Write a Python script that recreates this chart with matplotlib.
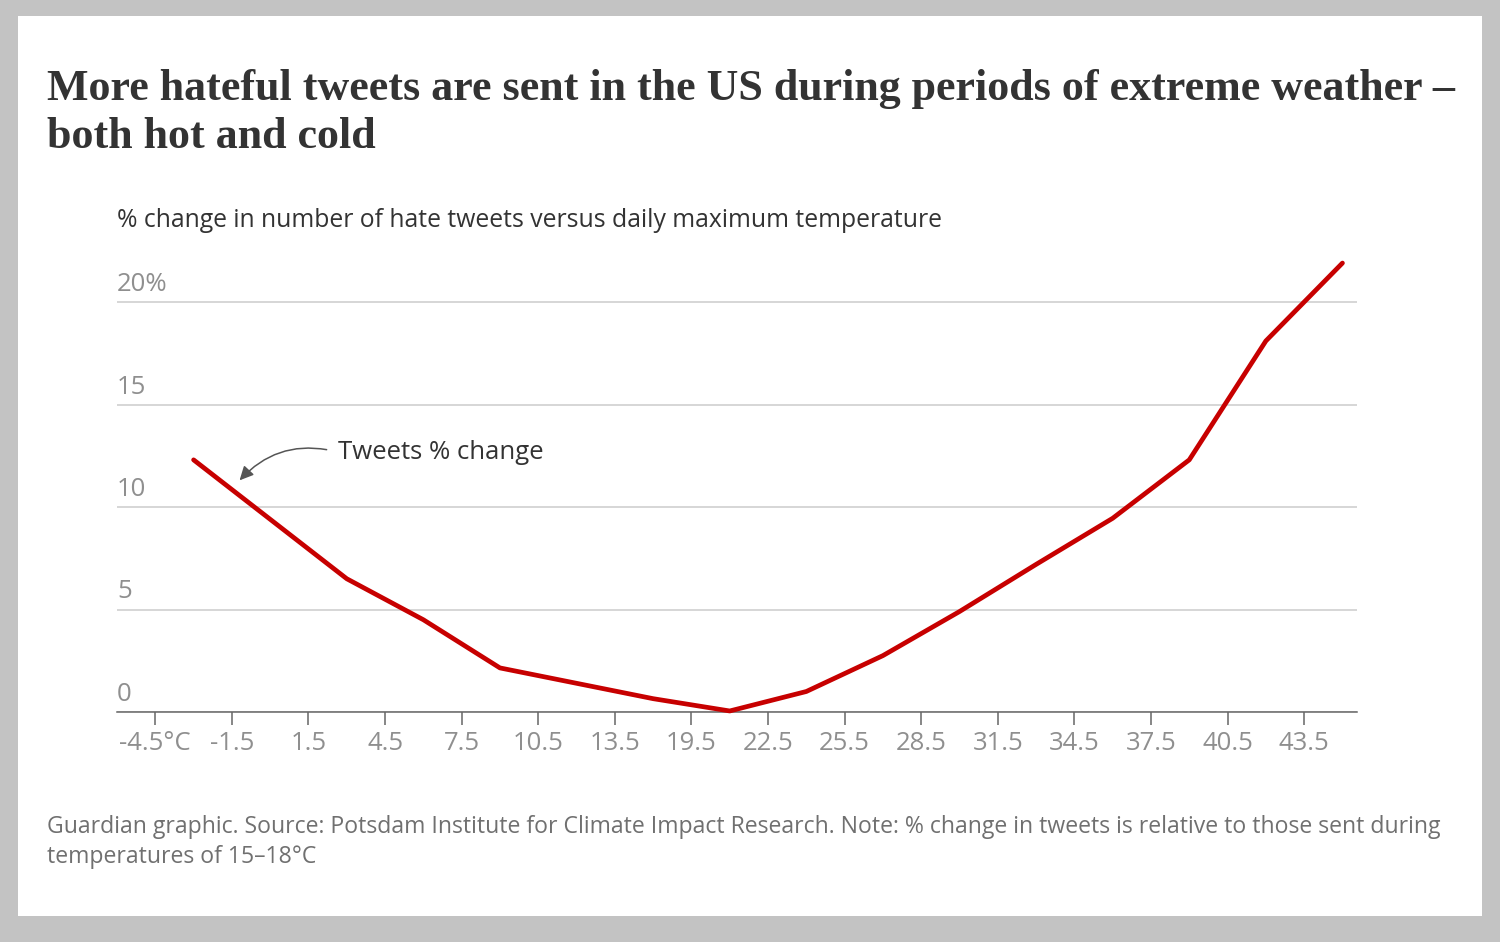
import matplotlib.pyplot as plt
import matplotlib.patches as patches
import matplotlib.transforms as mtransforms
import numpy as np

# temperature bands (bin edges shown as tick labels) and % change in hate tweets
tick_labels = ['-4.5°C', '-1.5', '1.5', '4.5', '7.5', '10.5', '13.5', '19.5',
               '22.5', '25.5', '28.5', '31.5', '34.5', '37.5', '40.5', '43.5']
tweets_change = [12.3, 9.4, 6.5, 4.5, 2.15, 1.4, 0.65, 0.05,
                 1.0, 2.75, 4.9, 7.2, 9.45, 12.3, 18.1, 21.9]
y_ticks = [0, 5, 10, 15, 20]
y_labels = ['0', '5', '10', '15', '20%']

title_lines = ['More hateful tweets are sent in the US during periods of extreme weather –',
               'both hot and cold']
subtitle = '% change in number of hate tweets versus daily maximum temperature'
footer_lines = ['Guardian graphic. Source: Potsdam Institute for Climate Impact Research. '
                'Note: % change in tweets is relative to those sent during',
                'temperatures of 15–18°C']

W, H = 1500, 942
SANS = ['Open Sans', 'DejaVu Sans']
SERIF = ['Liberation Serif', 'DejaVu Serif']

fig = plt.figure(figsize=(W / 100, H / 100), dpi=100, facecolor='#c3c3c3')
fig.add_artist(patches.Rectangle((18 / W, 1 - 916 / H), (1482 - 18) / W, (916 - 16) / H,
                                 transform=fig.transFigure, facecolor='white',
                                 edgecolor='none', zorder=0))


def fx(px):
    return px / W


def fy(py):
    return 1 - py / H


def fit_width(t, target_px):
    r = fig.canvas.get_renderer()
    w = t.get_window_extent(r).width
    t.set_fontsize(t.get_fontsize() * target_px / w)


# axes
ax = fig.add_axes([fx(117), fy(712), (1357 - 117) / W, (712 - 250.75) / H])
ax.set_facecolor('none')
x = np.arange(len(tweets_change)) + 0.5
ax.plot(x, tweets_change, color='#c70000', lw=3.4, solid_capstyle='round',
        solid_joinstyle='round', clip_on=False, zorder=3)
ax.set_xlim(-0.5, 15.69)
ax.set_ylim(0, 22.5)

ax.set_xticks(range(len(tick_labels)))
ax.set_xticklabels(tick_labels, family=SANS)
ax.tick_params(axis='x', length=9, width=1.1, color='#666666', labelsize=18.5,
               labelcolor='#8f8f8f', pad=5)
ax.set_yticks(y_ticks)
ax.tick_params(axis='y', length=0, labelleft=False)
ax.grid(axis='y', color='#cccccc', lw=1.1)
ax.set_axisbelow(True)
for s in ['top', 'right', 'left']:
    ax.spines[s].set_visible(False)
ax.spines['bottom'].set_color('#666666')
ax.spines['bottom'].set_linewidth(1.1)
ax.spines['bottom'].set_zorder(2)

off = mtransforms.offset_copy(ax.transData, fig=fig, x=0, y=11, units='dots')
for v, lab in zip(y_ticks, y_labels):
    ax.text(-0.5, v, lab, transform=off, ha='left', va='baseline',
            fontsize=18.5, color='#8f8f8f', family=SANS)

ann = ax.annotate('Tweets % change', xy=(1.1, 11.3), xytext=(2.38, 12.68),
                  ha='left', va='center', fontsize=18.5, color='#333333', family=SANS,
                  arrowprops=dict(arrowstyle='-|>,head_length=0.45,head_width=0.22',
                                  connectionstyle='arc3,rad=0.3', color='#555555',
                                  lw=1.1, relpos=(0, 0.5), shrinkA=6, shrinkB=0))

# texts
t1 = fig.text(fx(47), fy(100), title_lines[0], ha='left', va='baseline',
              fontsize=30, fontweight='bold', color='#333333', family=SERIF)
t2 = fig.text(fx(47), fy(148), title_lines[1], ha='left', va='baseline',
              fontsize=30, fontweight='bold', color='#333333', family=SERIF)
st = fig.text(fx(117), fy(227), subtitle, ha='left', va='baseline',
              fontsize=17, color='#333333', family=SANS)
f1 = fig.text(fx(47), fy(833), footer_lines[0], ha='left', va='baseline',
              fontsize=15.5, color='#707070', family=SANS)
f2 = fig.text(fx(47), fy(863), footer_lines[1], ha='left', va='baseline',
              fontsize=15.5, color='#707070', family=SANS)

fig.canvas.draw()
fit_width(t1, 1405)
t2.set_fontsize(t1.get_fontsize())
fit_width(st, 828)
fit_width(f1, 1400)
f2.set_fontsize(f1.get_fontsize())

fig.savefig('out.png', dpi=100, facecolor=fig.get_facecolor())
